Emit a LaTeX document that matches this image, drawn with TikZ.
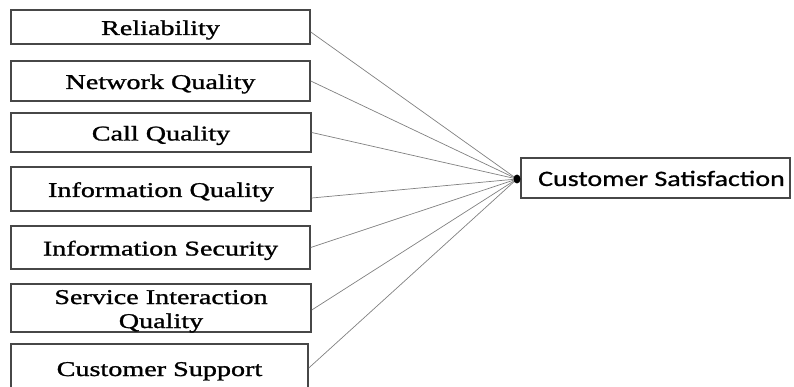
\documentclass[tikz,border=0pt]{standalone}
\usepackage{fontspec}
\usetikzlibrary{shapes.geometric}
\newfontfamily\tnrfont{Liberation Serif}[FakeStretch=1.34,FakeBold=1.2]
\newfontfamily\calfont{Carlito}[FakeStretch=1.27,FakeBold=0.8]
\begin{document}
\begin{tikzpicture}[x=1pt,y=-1pt,
  box/.style={draw=black!72, line width=1.5pt, inner sep=0pt, minimum width=299pt,
    align=center, text height=18pt, text depth=2pt,
    font=\tnrfont\fontsize{21}{24}\selectfont},
  conn/.style={draw=black!50, line width=0.7pt},
  hubdot/.style={ellipse, fill=black, inner sep=0pt, minimum width=7pt, minimum height=9pt}]
\useasboundingbox (0,0) rectangle (794,387);
\clip (0,0) rectangle (794,387);
\node[box, minimum height=34pt] (rel) at (160.5,27) {Reliability};
\node[box, minimum height=40pt] (net) at (160.5,81) {Network Quality};
\node[box, minimum width=300pt, minimum height=39pt] (call) at (161,132.5) {Call Quality};
\node[box, minimum width=300pt, minimum height=44pt] (iq) at (161,189) {Information Quality};
\node[box, minimum height=43pt] (is) at (160.5,247.5) {Information Security};
\node[box, minimum width=300pt, minimum height=48pt, text height=40pt, text depth=0pt] (sq) at (161,308) {Service Interaction\\Quality};
\node[box, minimum width=297pt, minimum height=48pt] (cs) at (159.5,368) {Customer Support};
\node[draw=black!72, line width=1.5pt, inner sep=0pt, minimum width=269pt, minimum height=40pt,
  text height=18pt, text depth=2pt,
  font=\calfont\fontsize{22}{24}\selectfont] (sat) at (655.5,178) {\hspace{12pt}Customer Satisfaction};
\coordinate (hub) at (517,179);
\draw[conn] ([yshift=-5pt]rel.east) -- (hub);
\draw[conn] (net.east) -- (hub);
\draw[conn] (call.east) -- (hub);
\draw[conn] ([yshift=-9pt]iq.east) -- (hub);
\draw[conn] (is.east) -- (hub);
\draw[conn] ([yshift=-2pt]sq.east) -- (hub);
\draw[conn] (cs.east) -- (hub);
\node[hubdot] (hubdot) at (hub) {};
\end{tikzpicture}
\end{document}
